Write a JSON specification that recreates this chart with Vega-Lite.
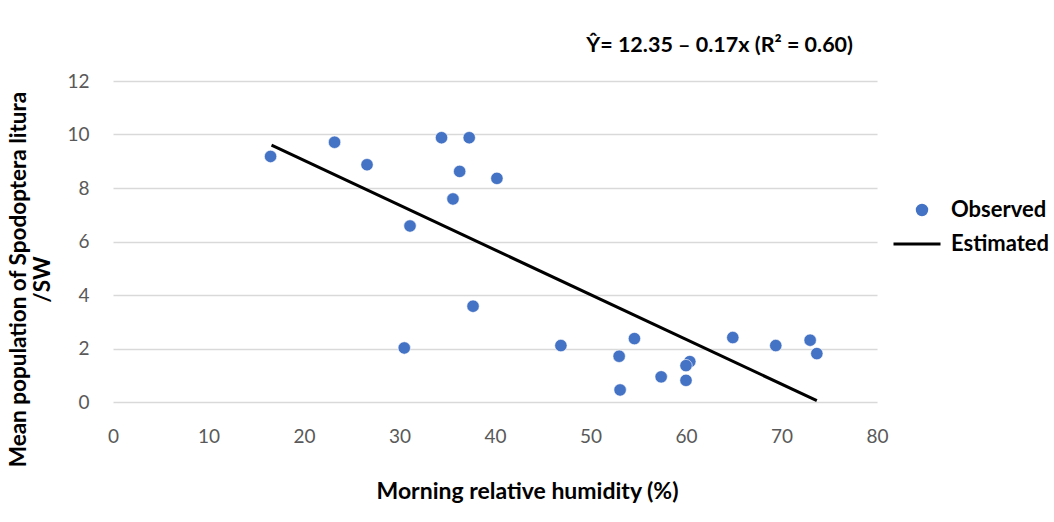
{
  "$schema": "https://vega.github.io/schema/vega-lite/v6.json",
  "width": 764,
  "height": 321,
  "autosize": "none",
  "padding": {"left": 113, "top": 81, "right": 177, "bottom": 120},
  "background": "white",
  "config": {
    "font": "Lato",
    "view": {"stroke": null}
  },
  "title": {
    "text": "Ŷ= 12.35 – 0.17x (R² = 0.60)",
    "anchor": "end",
    "frame": "group",
    "dx": -24,
    "offset": 16,
    "fontSize": 21.5,
    "fontWeight": "bold",
    "color": "black",
    "font": "Lato"
  },
  "datasets": {
    "observed": [
      {"humidity": 16.5, "population": 9.18, "series": "Observed"},
      {"humidity": 23.2, "population": 9.71, "series": "Observed"},
      {"humidity": 26.6, "population": 8.87, "series": "Observed"},
      {"humidity": 34.4, "population": 9.88, "series": "Observed"},
      {"humidity": 37.3, "population": 9.88, "series": "Observed"},
      {"humidity": 36.3, "population": 8.62, "series": "Observed"},
      {"humidity": 40.2, "population": 8.36, "series": "Observed"},
      {"humidity": 35.6, "population": 7.59, "series": "Observed"},
      {"humidity": 31.1, "population": 6.58, "series": "Observed"},
      {"humidity": 37.7, "population": 3.58, "series": "Observed"},
      {"humidity": 30.5, "population": 2.02, "series": "Observed"},
      {"humidity": 46.9, "population": 2.11, "series": "Observed"},
      {"humidity": 54.6, "population": 2.37, "series": "Observed"},
      {"humidity": 53.0, "population": 1.71, "series": "Observed"},
      {"humidity": 53.1, "population": 0.45, "series": "Observed"},
      {"humidity": 57.4, "population": 0.94, "series": "Observed"},
      {"humidity": 60.0, "population": 0.81, "series": "Observed"},
      {"humidity": 60.4, "population": 1.51, "series": "Observed"},
      {"humidity": 60.0, "population": 1.36, "series": "Observed"},
      {"humidity": 64.9, "population": 2.41, "series": "Observed"},
      {"humidity": 69.4, "population": 2.11, "series": "Observed"},
      {"humidity": 73.0, "population": 2.31, "series": "Observed"},
      {"humidity": 73.7, "population": 1.81, "series": "Observed"}
    ],
    "estimated": [
      {"humidity": 16.6, "population": 9.6, "series": "Estimated"},
      {"humidity": 73.7, "population": 0.05, "series": "Estimated"}
    ]
  },
  "encoding": {
    "x": {
      "field": "humidity",
      "type": "quantitative",
      "scale": {"domain": [0, 80], "nice": false, "zero": true},
      "axis": {
        "title": "Morning relative humidity (%)",
        "values": [0, 10, 20, 30, 40, 50, 60, 70, 80],
        "grid": false,
        "domain": false,
        "ticks": false,
        "labelFlush": false,
        "labelPadding": 25,
        "labelFontSize": 19,
        "labelColor": "#595959",
        "labelFont": "Lato",
        "titleFont": "Lato",
        "titleFontSize": 23,
        "titleFontWeight": "bold",
        "titleColor": "black",
        "titleAlign": "center",
        "titleX": 414,
        "titlePadding": 34
      }
    },
    "y": {
      "field": "population",
      "type": "quantitative",
      "scale": {"domain": [0, 12], "nice": false},
      "axis": {
        "title": ["Mean population of Spodoptera litura", "/SW"],
        "values": [0, 2, 4, 6, 8, 10, 12],
        "grid": true,
        "gridColor": "#d9d9d9",
        "gridWidth": 1.3,
        "domain": false,
        "ticks": false,
        "labelPadding": 24,
        "labelFontSize": 19,
        "labelColor": "#595959",
        "labelFont": "Lato",
        "titleFont": "Lato",
        "titleFontSize": 22.5,
        "titleFontWeight": "bold",
        "titleColor": "black",
        "titleAngle": -90,
        "titleAlign": "center",
        "titleBaseline": "alphabetic",
        "titleLineHeight": 24,
        "titleX": -88,
        "titleY": 198
      }
    }
  },
  "layer": [
    {
      "data": {"name": "estimated"},
      "mark": {"type": "line", "strokeWidth": 3, "clip": false},
      "encoding": {
        "color": {
          "field": "series",
          "type": "nominal",
          "scale": {"domain": ["Estimated"], "range": ["black"]},
          "legend": {
            "title": null,
            "orient": "none",
            "legendX": 779,
            "legendY": 138,
            "symbolType": "stroke",
            "symbolSize": 2209,
            "symbolStrokeWidth": 3,
            "labelOffset": 9,
            "labelFontSize": 22,
            "labelFontWeight": "bold",
            "labelColor": "black",
            "labelFont": "Lato"
          }
        }
      }
    },
    {
      "data": {"name": "observed"},
      "mark": {"type": "point", "filled": true, "size": 154, "opacity": 1, "stroke": "white", "strokeWidth": 0.6},
      "encoding": {
        "color": {
          "field": "series",
          "type": "nominal",
          "scale": {"domain": ["Observed"], "range": ["#4472C4"]},
          "legend": {
            "title": null,
            "orient": "none",
            "legendX": 798,
            "legendY": 118,
            "symbolType": "circle",
            "symbolSize": 154,
            "symbolOpacity": 1,
            "symbolStrokeWidth": 0,
            "labelOffset": 18,
            "labelFontSize": 22,
            "labelFontWeight": "bold",
            "labelColor": "black",
            "labelFont": "Lato"
          }
        }
      }
    }
  ],
  "resolve": {"scale": {"color": "independent"}, "legend": {"color": "independent"}}
}
